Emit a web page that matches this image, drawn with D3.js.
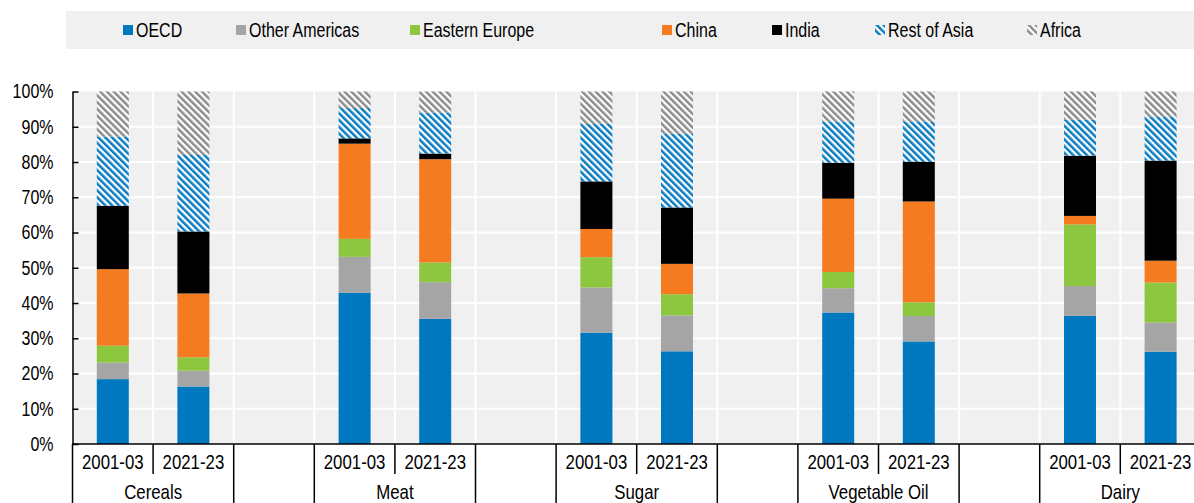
<!DOCTYPE html>
<html>
<head>
<meta charset="utf-8">
<script src="https://cdn.jsdelivr.net/npm/d3@7"></script>
<style>
  body { margin: 0; background: #fff; }
  svg { display: block; }
  text { font-family: "Liberation Sans", Arial, sans-serif; fill: #000; }
</style>
</head>
<body>
<svg id="chart" width="1194" height="503"></svg>
<script>
// commodities and periods along the x axis
var commodities = ["Cereals", "Meat", "Sugar", "Vegetable Oil", "Dairy"];
var periods = ["2001-03", "2021-23"];
var regions = ["OECD", "Other Americas", "Eastern Europe", "China", "India", "Rest of Asia", "Africa"];
var yTicks = [0, 10, 20, 30, 40, 50, 60, 70, 80, 90, 100];

// shares (%) per region, in order: Cereals 01-03, 21-23, Meat 01-03, 21-23, Sugar.., Veg oil.., Dairy..
var oecd          = [18.4, 16.3, 42.9, 35.5, 31.6, 26.3, 37.3, 29.1, 36.4, 26.2];
var otherAmericas = [ 4.7,  4.5, 10.2, 10.4, 12.8, 10.2,  6.9,  7.2,  8.4,  8.3];
var easternEurope = [ 4.8,  3.8,  5.1,  5.6,  8.6,  6.0,  4.6,  3.9, 17.5, 11.3];
var china         = [21.7, 18.1, 27.0, 29.3,  8.0,  8.6, 20.8, 28.6,  2.4,  6.2];
var india         = [18.0, 17.6,  1.5,  1.6, 13.5, 16.0, 10.2, 11.3, 17.1, 28.4];
var restOfAsia    = [19.6, 21.7,  8.6, 11.6, 16.3, 20.9, 11.7, 11.4, 10.2, 12.5];
var africa        = [12.8, 18.0,  4.7,  6.0,  9.2, 12.0,  8.5,  8.5,  8.0,  7.1];

var series = [oecd, otherAmericas, easternEurope, china, india, restOfAsia, africa];

var svg = d3.select("#chart");
var W = 1194, H = 503;
var narrow = 0.82; // squeeze text to look like a narrow font

// patterns for the hatched regions
var defs = svg.append("defs");
function stripes(id, col) {
    var p = defs.append("pattern")
        .attr("id", id)
        .attr("patternUnits", "userSpaceOnUse")
        .attr("width", 4.8).attr("height", 4.8)
        .attr("patternTransform", "rotate(-45)");
    p.append("rect").attr("width", 4.8).attr("height", 4.8).attr("fill", "#fff");
    p.append("rect").attr("width", 2.5).attr("height", 4.8).attr("fill", col);
}
stripes("hatchAsia", "#0a7cc1");
stripes("hatchAfrica", "#8c8c8c");

var fills = ["#0078c0", "#a5a5a5", "#8dc63f", "#f47b20", "#000000", "url(#hatchAsia)", "url(#hatchAfrica)"];

// build slots: two periods per commodity, an empty slot between commodities
var slots = [];
var rows = [];
commodities.forEach(function(c, i) {
    periods.forEach(function(p, j) {
        var key = c + "|" + p;
        slots.push(key);
        var row = { key: key, commodity: c, period: p };
        regions.forEach(function(r, k) { row[r] = series[k][i * 2 + j]; });
        rows.push(row);
    });
    if (i < commodities.length - 1) slots.push("gap" + i);
});

var plotLeft = 72.5, plotTop = 91.5, plotBottom = 444;
var x = d3.scaleBand().domain(slots).range([plotLeft, plotLeft + slots.length * 80.6]);
var y = d3.scaleLinear().domain([0, 100]).range([plotBottom, plotTop]);
var barW = 32;

// plot background and grid
svg.append("rect")
    .attr("x", plotLeft).attr("y", plotTop)
    .attr("width", W - plotLeft).attr("height", plotBottom - plotTop)
    .attr("fill", "#f0f0f0");

svg.append("g").selectAll("line")
    .data(yTicks.filter(function(d) { return d > 0 && d < 100; }))
    .enter().append("line")
    .attr("x1", plotLeft).attr("x2", W)
    .attr("y1", function(d) { return y(d); }).attr("y2", function(d) { return y(d); })
    .attr("stroke", "#fff").attr("stroke-width", 2);

svg.append("g").selectAll("line")
    .data(slots.slice(1))
    .enter().append("line")
    .attr("x1", function(d) { return x(d); }).attr("x2", function(d) { return x(d); })
    .attr("y1", plotTop).attr("y2", plotBottom)
    .attr("stroke", "#fff").attr("stroke-width", 2);

// stacked bars
var stack = d3.stack().keys(regions);
var layers = stack(rows);

svg.append("g").selectAll("g")
    .data(layers)
    .enter().append("g")
    .attr("fill", function(d, i) { return fills[i]; })
    .selectAll("rect")
    .data(function(d) { return d; })
    .enter().append("rect")
    .attr("x", function(d) { return x(d.data.key) + (x.bandwidth() - barW) / 2; })
    .attr("width", barW)
    .attr("y", function(d) { return y(d[1]); })
    .attr("height", function(d) { return y(d[0]) - y(d[1]); });

// y axis
var yAxis = d3.axisLeft(y)
    .tickValues(yTicks)
    .tickFormat(function(d) { return d + "%"; })
    .tickSizeInner(-6)
    .tickSizeOuter(0);

var ya = svg.append("g")
    .attr("transform", "translate(" + plotLeft + ",0)")
    .call(yAxis);
ya.select(".domain").attr("stroke", "#000").attr("stroke-width", 1.5);
ya.selectAll(".tick line").attr("stroke", "#000").attr("stroke-width", 1.5);
ya.selectAll(".tick text")
    .attr("font-size", 19.5)
    .attr("font-family", null)
    .attr("x", -19 / narrow)
    .attr("transform", "scale(" + narrow + ",1)");

// x axis line
svg.append("line")
    .attr("x1", plotLeft).attr("x2", W)
    .attr("y1", plotBottom).attr("y2", plotBottom)
    .attr("stroke", "#000").attr("stroke-width", 1.5);

// ticks between the two periods (short) and at group borders (long)
var shortTicks = [];
var longTicks = [plotLeft];
slots.forEach(function(s, i) {
    if (i === 0) return;
    var prev = slots[i - 1];
    if (prev.indexOf("|") > 0 && s.indexOf("|") > 0 && prev.split("|")[0] === s.split("|")[0]) shortTicks.push(x(s));
    else longTicks.push(x(s));
});

svg.append("g").selectAll("line")
    .data(shortTicks)
    .enter().append("line")
    .attr("x1", function(d) { return d; }).attr("x2", function(d) { return d; })
    .attr("y1", plotBottom).attr("y2", 474)
    .attr("stroke", "#000").attr("stroke-width", 1.5);

svg.append("g").selectAll("line")
    .data(longTicks)
    .enter().append("line")
    .attr("x1", function(d) { return d; }).attr("x2", function(d) { return d; })
    .attr("y1", plotBottom).attr("y2", H)
    .attr("stroke", "#000").attr("stroke-width", 1.5);

// period labels
svg.append("g").selectAll("text")
    .data(rows)
    .enter().append("text")
    .attr("transform", function(d) { return "translate(" + (x(d.key) + x.bandwidth() / 2) + ",462) scale(" + narrow + ",1)"; })
    .attr("dy", "0.35em")
    .attr("text-anchor", "middle")
    .attr("font-size", 20.5)
    .text(function(d) { return d.period; });

// commodity labels
svg.append("g").selectAll("text")
    .data(commodities)
    .enter().append("text")
    .attr("transform", function(d) { return "translate(" + (x(d + "|" + periods[0]) + x.bandwidth()) + ",492) scale(" + narrow + ",1)"; })
    .attr("dy", "0.35em")
    .attr("text-anchor", "middle")
    .attr("font-size", 20.5)
    .text(function(d) { return d; });

// legend
svg.append("rect")
    .attr("x", 66).attr("y", 11)
    .attr("width", W - 66).attr("height", 38)
    .attr("fill", "#f0f0f0");

var legendX = [123, 236, 410, 662, 772, 875, 1027];
var lg = svg.append("g").selectAll("g")
    .data(regions)
    .enter().append("g")
    .attr("transform", function(d, i) { return "translate(" + legendX[i] + ",25)"; });
lg.append("rect")
    .attr("width", 10).attr("height", 10)
    .attr("fill", function(d, i) { return fills[i]; });
lg.append("text")
    .attr("transform", "translate(13,5) scale(" + narrow + ",1)")
    .attr("dy", "0.35em")
    .attr("font-size", 19.5)
    .text(function(d) { return d; });
</script>
</body>
</html>
